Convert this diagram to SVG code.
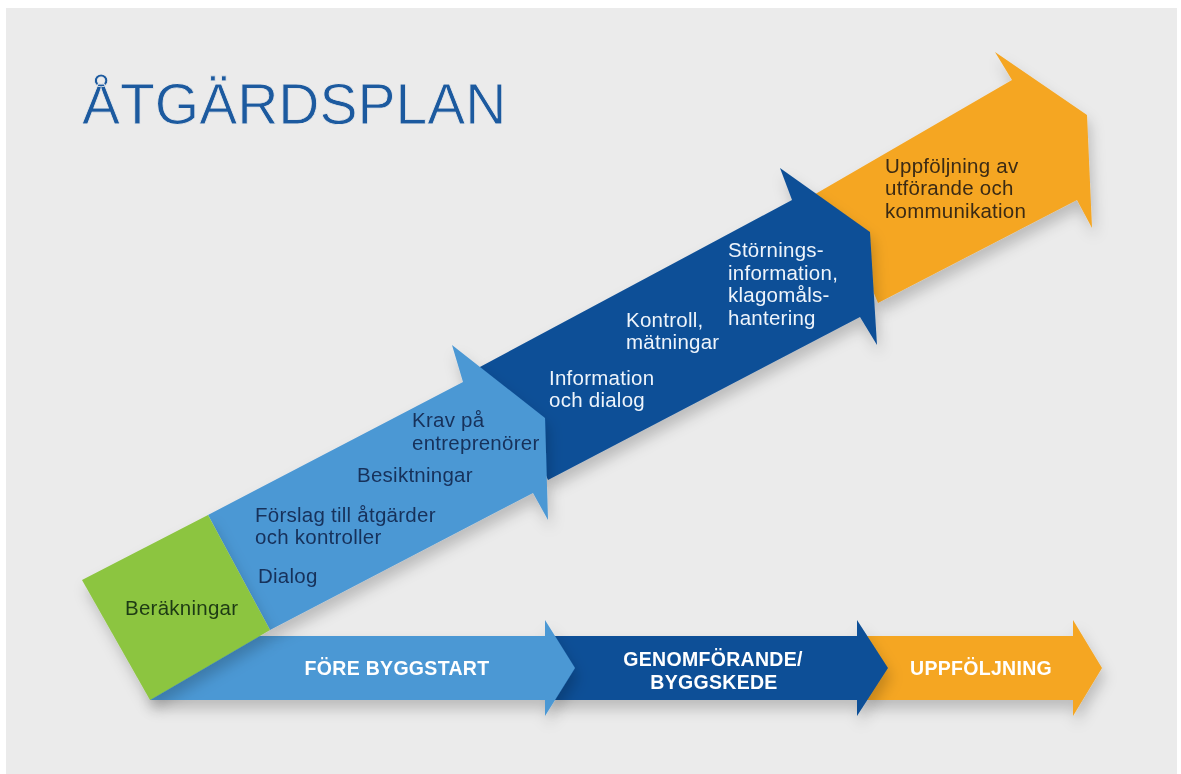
<svg xmlns="http://www.w3.org/2000/svg" width="1181" height="774" viewBox="0 0 1181 774">
  <defs>
    <filter id="sh" x="-10%" y="-10%" width="130%" height="140%">
      <feDropShadow dx="3" dy="9" stdDeviation="7" flood-color="#000" flood-opacity="0.2"/>
    </filter>
  </defs>
  <style>
    .t { font-family: "Liberation Sans", Arial, sans-serif; font-size: 20.5px; letter-spacing: 0.25px; }
    .navy { fill: #17305a; }
    .white { fill: #eef4fb; }
    .brown { fill: #3a2a12; }
    .green-t { fill: #1e3a12; }
    .b { font-family: "Liberation Sans", Arial, sans-serif; font-size: 19.5px; font-weight: bold; fill: #ffffff; text-anchor: middle; letter-spacing: 0.3px; }
    .lb { fill: #4c98d4; }
    .db { fill: #0d4f97; }
    .or { fill: #f5a623; }
    .gr { fill: #8cc540; }
  </style>
  <rect x="0" y="0" width="1181" height="774" fill="#ffffff"/>
  <rect x="6" y="8" width="1171" height="766" fill="#ebebeb"/>

  <g id="title">
    <text x="82" y="124" font-family="Liberation Sans, Arial, sans-serif" font-size="57" fill="#1c5a9f" stroke="#ebebeb" stroke-width="0.8">ÅTGÄRDSPLAN</text>
  </g>

  <g id="timeline-connectors">
    <g id="bar-uppfoljning" filter="url(#sh)">
      <polygon class="or" points="865,636 1073,636 1073,620 1102,668 1073,716 1073,700 865,700"/>
      <text class="b" x="981" y="675">UPPFÖLJNING</text>
    </g>
    <g id="bar-genomforande" filter="url(#sh)">
      <polygon class="db" points="550,636 857,636 857,620 888,668 857,716 857,700 550,700"/>
      <text class="b" x="713" y="666">GENOMFÖRANDE/</text>
      <text class="b" x="714" y="689">BYGGSKEDE</text>
    </g>
    <g id="bar-fore" filter="url(#sh)">
      <polygon class="lb" points="150,636 545,636 545,620 575,668 545,716 545,700 150,700"/>
      <text class="b" x="397" y="675">FÖRE BYGGSTART</text>
    </g>
  </g>

  <g id="arrow-uppfoljning" filter="url(#sh)">
    <polygon class="or" points="805,200 1012,80 995,52 1087,115 1092,228 1077,200 878,303 860,260"/>
    <text class="t brown" x="885" y="173">Uppföljning av</text>
    <text class="t brown" x="885" y="195">utförande och</text>
    <text class="t brown" x="885" y="218">kommunikation</text>
  </g>

  <g id="arrow-genomforande" filter="url(#sh)">
    <polygon class="db" points="478,368 792,200 780,168 870,232 877,345 860,317 548,480 530,440"/>
    <text class="t white" x="549" y="385">Information</text>
    <text class="t white" x="549" y="407">och dialog</text>
    <text class="t white" x="626" y="327">Kontroll,</text>
    <text class="t white" x="626" y="349">mätningar</text>
    <text class="t white" x="728" y="257">Störnings-</text>
    <text class="t white" x="728" y="280">information,</text>
    <text class="t white" x="728" y="302">klagomåls-</text>
    <text class="t white" x="728" y="325">hantering</text>
  </g>

  <g id="arrow-fore" filter="url(#sh)">
    <polygon class="lb" points="208,515 463,382 452,345 545,418 548,520 533,493 270,630"/>
    <text class="t navy" x="412" y="427">Krav på</text>
    <text class="t navy" x="412" y="450">entreprenörer</text>
    <text class="t navy" x="357" y="482">Besiktningar</text>
    <text class="t navy" x="255" y="522">Förslag till åtgärder</text>
    <text class="t navy" x="255" y="544">och kontroller</text>
    <text class="t navy" x="258" y="583">Dialog</text>
  </g>

  <g id="node-berakningar" filter="url(#sh)">
    <polygon class="gr" points="82,580 208,515 270,630 150,700"/>
    <text class="t green-t" x="125" y="615">Beräkningar</text>
  </g>
</svg>
